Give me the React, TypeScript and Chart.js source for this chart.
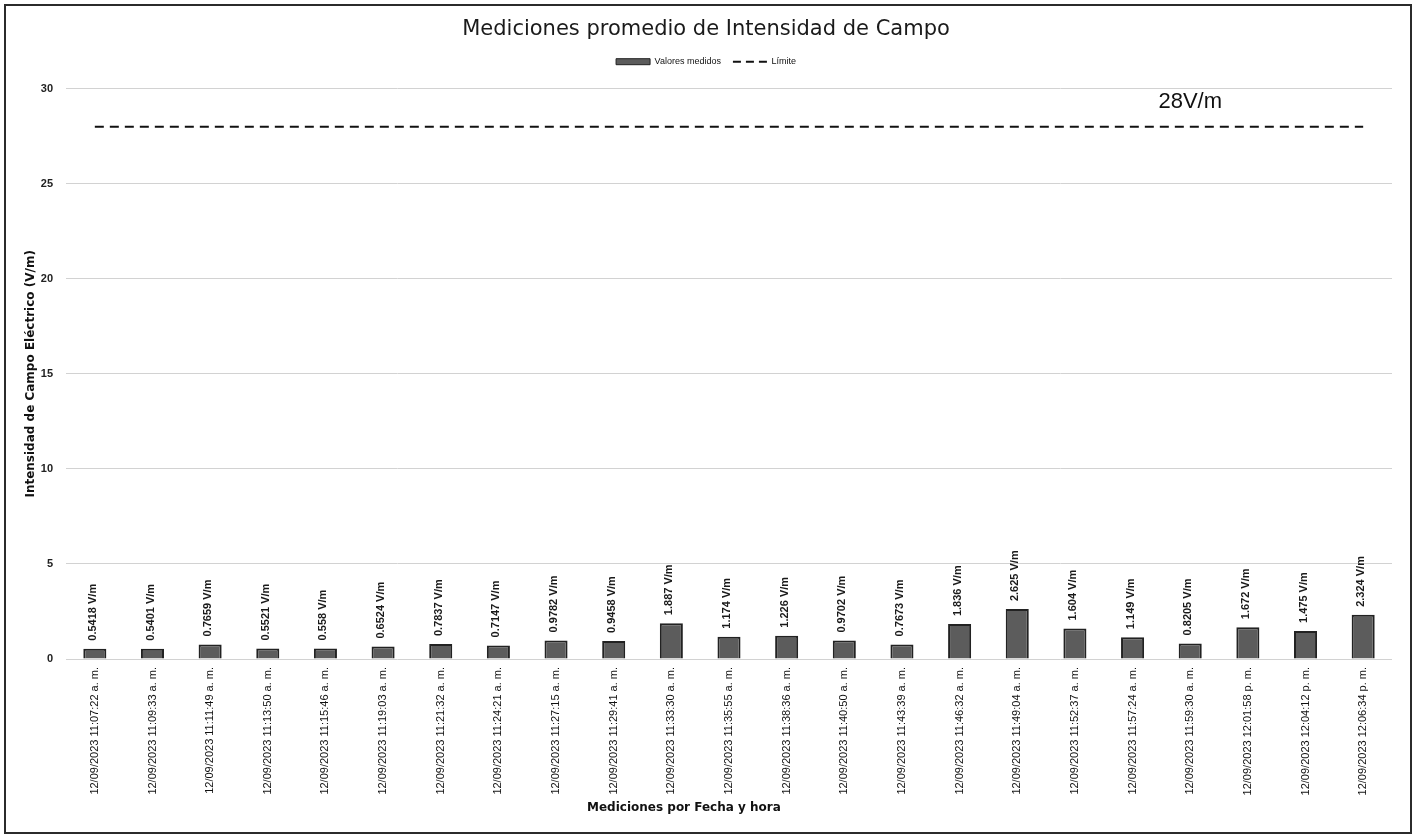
import React, { useEffect, useRef } from "react";
import { Chart, registerables } from "chart.js";

Chart.register(...registerables);

const categories = [
  "12/09/2023 11:07:22 a. m.",
  "12/09/2023 11:09:33 a. m.",
  "12/09/2023 11:11:49 a. m.",
  "12/09/2023 11:13:50 a. m.",
  "12/09/2023 11:15:46 a. m.",
  "12/09/2023 11:19:03 a. m.",
  "12/09/2023 11:21:32 a. m.",
  "12/09/2023 11:24:21 a. m.",
  "12/09/2023 11:27:15 a. m.",
  "12/09/2023 11:29:41 a. m.",
  "12/09/2023 11:33:30 a. m.",
  "12/09/2023 11:35:55 a. m.",
  "12/09/2023 11:38:36 a. m.",
  "12/09/2023 11:40:50 a. m.",
  "12/09/2023 11:43:39 a. m.",
  "12/09/2023 11:46:32 a. m.",
  "12/09/2023 11:49:04 a. m.",
  "12/09/2023 11:52:37 a. m.",
  "12/09/2023 11:57:24 a. m.",
  "12/09/2023 11:59:30 a. m.",
  "12/09/2023 12:01:58 p. m.",
  "12/09/2023 12:04:12 p. m.",
  "12/09/2023 12:06:34 p. m.",
];

const measuredValues = [
  0.5418, 0.5401, 0.7659, 0.5521, 0.558, 0.6524, 0.7837, 0.7147, 0.9782, 0.9458,
  1.887, 1.174, 1.226, 0.9702, 0.7673, 1.836, 2.625, 1.604, 1.149, 0.8205,
  1.672, 1.475, 2.324,
];

const limitValues = [
  28, 28, 28, 28, 28, 28, 28, 28, 28, 28, 28, 28, 28, 28, 28, 28, 28, 28, 28, 28,
  28, 28, 28,
];

const yMin = 0;
const yMax = 30;
const yStep = 5;

const chartTitle = "Mediciones promedio de Intensidad de Campo";
const xAxisTitle = "Mediciones por Fecha y hora";
const yAxisTitle = "Intensidad de Campo Eléctrico (V/m)";
const measuredLabel = "Valores medidos";
const limitLabel = "Límite";
const limitNote = "28V/m";
const limitNoteCategory = 19;
const limitNoteValue = 29.3;
const valueUnit = " V/m";

const barFill = "#5c5c5c";
const barBorder = "#222222";

const barLabelsPlugin = {
  id: "barLabels",
  afterDatasetsDraw(chart: any) {
    const meta = chart.getDatasetMeta(0);
    const ctx = chart.ctx;
    ctx.save();
    ctx.font = "bold 11px 'Liberation Sans', Arial, sans-serif";
    ctx.fillStyle = "#1a1a1a";
    ctx.textAlign = "left";
    ctx.textBaseline = "middle";
    meta.data.forEach((bar: any, i: number) => {
      const v = chart.data.datasets[0].data[i];
      ctx.save();
      ctx.translate(bar.x - 2, bar.y - 8);
      ctx.rotate(-Math.PI / 2);
      ctx.fillText(String(v) + valueUnit, 0, 0);
      ctx.restore();
    });
    ctx.restore();
  },
};

const limitNotePlugin = {
  id: "limitNote",
  afterDatasetsDraw(chart: any) {
    const ctx = chart.ctx;
    const x = chart.scales.x.getPixelForValue(limitNoteCategory);
    const y = chart.scales.y.getPixelForValue(limitNoteValue);
    ctx.save();
    ctx.font = "22px 'Liberation Sans', Arial, sans-serif";
    ctx.fillStyle = "#111";
    ctx.textAlign = "center";
    ctx.textBaseline = "middle";
    ctx.fillText(limitNote, x, y);
    ctx.restore();
  },
};

const xTitlePlugin = {
  id: "xTitle",
  afterDraw(chart: any) {
    const ctx = chart.ctx;
    const area = chart.chartArea;
    const x = area.left + area.width * 0.466;
    const y = chart.height - 28;
    ctx.save();
    ctx.font = "bold 12px 'DejaVu Sans', sans-serif";
    ctx.fillStyle = "#111";
    ctx.textAlign = "center";
    ctx.textBaseline = "middle";
    ctx.fillText(xAxisTitle, x, y);
    ctx.restore();
  },
};

const legendSpacingPlugin = {
  id: "legendSpacing",
  beforeLayout(chart: any) {
    const lg: any = chart.legend;
    if (lg && !lg._patchedFit) {
      const orig = lg.fit;
      lg.fit = function () {
        orig.call(this);
        this.height = 43.5;
      };
      lg._patchedFit = true;
    }
  },
};

export default function App() {
  const canvasRef = useRef<HTMLCanvasElement | null>(null);

  useEffect(() => {
    if (!canvasRef.current) return;
    Chart.defaults.font.family = "'Liberation Sans', Arial, sans-serif";
    const chart = new Chart(canvasRef.current, {
      type: "bar",
      data: {
        labels: categories,
        datasets: [
          {
            type: "bar",
            label: measuredLabel,
            data: measuredValues,
            backgroundColor: barFill,
            borderColor: barBorder,
            borderWidth: 2,
            barPercentage: 0.5,
            categoryPercentage: 0.8,
            order: 2,
          } as any,
          {
            type: "line",
            label: limitLabel,
            data: limitValues,
            borderColor: "#111",
            borderWidth: 2,
            borderDash: [9, 6],
            pointRadius: 0,
            fill: false,
            order: 1,
          } as any,
        ],
      },
      options: {
        animation: false,
        responsive: false,
        devicePixelRatio: 1,
        layout: { padding: { left: 20, right: 24, top: 0, bottom: 0 } },
        plugins: {
          title: {
            display: true,
            text: chartTitle,
            color: "#1a1a1a",
            font: { family: "'DejaVu Sans', sans-serif", size: 21, weight: "normal" },
            padding: { top: 17, bottom: 3 },
          },
          legend: {
            display: true,
            position: "top",
            labels: {
              font: { size: 9 },
              color: "#111",
              usePointStyle: true,
              pointStyleWidth: 34,
              boxHeight: 6,
              padding: 12,
              generateLabels: (c: any) => {
                const items = (Chart.defaults.plugins.legend.labels as any).generateLabels(c);
                items.sort((a: any, b: any) => a.datasetIndex - b.datasetIndex);
                items.forEach((it: any) => {
                  if (it.datasetIndex === 0) {
                    it.pointStyle = "rect";
                    it.fillStyle = barFill;
                    it.strokeStyle = barBorder;
                    it.lineWidth = 1;
                    it.lineDash = [];
                  } else {
                    it.pointStyle = "line";
                    it.strokeStyle = "#111";
                    it.lineWidth = 2;
                    it.lineDash = [8, 5];
                  }
                });
                return items;
              },
            },
          },
          tooltip: { enabled: false },
        },
        scales: {
          x: {
            type: "category",
            offset: true,
            grid: { display: false, drawTicks: false },
            border: { display: false },
            ticks: {
              autoSkip: false,
              maxRotation: 90,
              minRotation: 90,
              padding: 8,
              color: "#111",
              font: { size: 11 },
            },
            afterFit: (s: any) => {
              s.height = 177;
            },
          },
          y: {
            min: yMin,
            max: yMax,
            ticks: {
              stepSize: yStep,
              padding: 13,
              color: "#222",
              font: { size: 11, weight: "bold" },
            },
            grid: { color: "#d2d2d2", lineWidth: 1, drawTicks: false },
            border: { display: false },
            title: {
              display: true,
              text: yAxisTitle,
              color: "#111",
              font: { family: "'DejaVu Sans', sans-serif", size: 12, weight: "bold" },
              padding: { top: 4, bottom: 4 },
            },
            afterFit: (s: any) => {
              s.width = 46;
            },
          },
        },
      },
      plugins: [legendSpacingPlugin, barLabelsPlugin, limitNotePlugin, xTitlePlugin],
    } as any);
    return () => chart.destroy();
  }, []);

  return (
    <div style={{ position: "absolute", left: 0, top: 0, width: 1416, height: 836, background: "#fff" }}>
      <canvas
        ref={canvasRef}
        width={1416}
        height={836}
        style={{ position: "absolute", left: 0, top: 0, width: 1416, height: 836 }}
      />
      <div
        style={{
          position: "absolute",
          left: 4,
          top: 4,
          width: 1408,
          height: 830,
          border: "2px solid #2b2b2b",
          boxSizing: "border-box",
          pointerEvents: "none",
        }}
      />
    </div>
  );
}
